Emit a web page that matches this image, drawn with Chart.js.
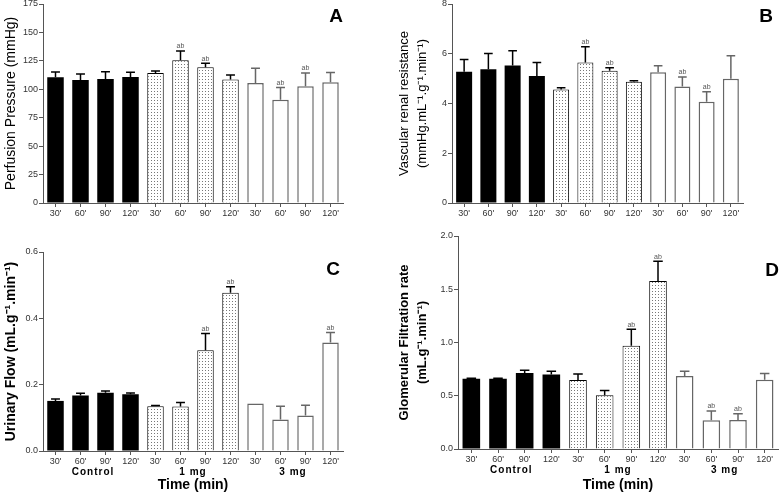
<!DOCTYPE html>
<html>
<head>
<meta charset="utf-8">
<script src="https://cdn.jsdelivr.net/npm/chart.js@4.4.1/dist/chart.umd.min.js"></script>
<style>
  body { margin: 0; background: #fff; }
  #wrap { position: relative; width: 780px; height: 492px; overflow: hidden; }
  canvas { position: absolute; }
  .letter { position: absolute; font: bold 19px "Liberation Sans", Arial, sans-serif; color: #000; transform: translate(-50%, -50%); }
</style>
</head>
<body>
<div id="wrap">
  <canvas id="cA" width="390" height="240" style="left:0;top:0"></canvas>
  <canvas id="cB" width="390" height="240" style="left:390px;top:0"></canvas>
  <canvas id="cC" width="390" height="252" style="left:0;top:240px"></canvas>
  <canvas id="cD" width="390" height="262" style="left:390px;top:230px"></canvas>
  <div class="letter" style="left:336px;top:16px">A</div>
  <div class="letter" style="left:766px;top:16px">B</div>
  <div class="letter" style="left:333px;top:269px">C</div>
  <div class="letter" style="left:772px;top:270px">D</div>
</div>
<script>
document.addEventListener("DOMContentLoaded", function () {

  const timeLabels = ["30'", "60'", "90'", "120'", "30'", "60'", "90'", "120'", "30'", "60'", "90'", "120'"];
  const groupLabels = ['Control', '1 mg', '3 mg'];

  // A - perfusion pressure
  const ppMean = [110.5, 108.2, 109, 110.8, 114.4, 125.5, 119.4, 108.5, 105.6, 90.9, 102.6, 106.2];
  const ppSem  = [4.7, 5.3, 6.5, 4.2, 1.6, 8.2, 3.5, 4.1, 12.9, 10.6, 11.8, 8.5];
  const ppSig  = ['', '', '', '', '', 'ab', 'ab', '', '', 'ab', 'ab', ''];

  // B - vascular renal resistance
  const vrrMean = [5.28, 5.38, 5.53, 5.11, 4.56, 5.65, 5.32, 4.87, 5.26, 4.68, 4.07, 5.0];
  const vrrSem  = [0.49, 0.63, 0.59, 0.54, 0.07, 0.63, 0.12, 0.04, 0.26, 0.39, 0.40, 0.92];
  const vrrSig  = ['', '', '', '', '', 'ab', 'ab', '', '', 'ab', 'ab', ''];

  // C - urinary flow
  const ufMean = [0.151, 0.167, 0.176, 0.171, 0.135, 0.134, 0.304, 0.477, 0.143, 0.095, 0.107, 0.327];
  const ufSem  = [0.006, 0.007, 0.005, 0.004, 0.002, 0.012, 0.050, 0.018, 0, 0.040, 0.031, 0.030];
  const ufSig  = ['', '', '', '', '', '', 'ab', 'ab', '', '', '', 'ab'];

  // D - glomerular filtration rate
  const gfrMean = [0.66, 0.66, 0.713, 0.70, 0.648, 0.504, 0.97, 1.577, 0.685, 0.27, 0.272, 0.65];
  const gfrSem  = [0.005, 0.005, 0.027, 0.03, 0.056, 0.046, 0.154, 0.185, 0.045, 0.087, 0.058, 0.06];
  const gfrSig  = ['', '', '', '', '', '', 'ab', 'ab', '', 'ab', 'ab', ''];

  const FONT = '"Liberation Sans", Arial, sans-serif';
  const AXIS = '#555';

  // dotted fill for the 1 mg bars
  const tile = document.createElement('canvas');
  tile.width = 3; tile.height = 3;
  const tctx = tile.getContext('2d');
  tctx.fillStyle = '#fff';
  tctx.fillRect(0, 0, 3, 3);
  tctx.fillStyle = '#777';
  tctx.fillRect(1, 1, 1, 1);
  const dots = tctx.createPattern(tile, 'repeat');

  const fills = timeLabels.map((_, i) => i < 4 ? '#000' : i < 8 ? dots : '#fff');
  const borders = timeLabels.map((_, i) => i < 4 ? '#000' : i < 8 ? '#000' : '#666');
  const borderW = timeLabels.map((_, i) => i < 4 ? 0 : i < 8 ? 1 : 1.5);

  // error bars, "ab" marks and group names
  const extras = {
    id: 'extras',
    afterDatasetsDraw(chart, args, o) {
      const ctx = chart.ctx;
      const y = chart.scales.y, x = chart.scales.x;
      const bars = chart.getDatasetMeta(0).data;
      ctx.save();
      ctx.font = '7px ' + FONT;
      ctx.textAlign = 'center';
      ctx.textBaseline = 'bottom';
      bars.forEach((bar, i) => {
        const top = y.getPixelForValue(o.mean[i]);
        const tip = y.getPixelForValue(o.mean[i] + o.sem[i]);
        const half = bar.width * 0.27;
        ctx.strokeStyle = i < 8 ? '#000' : '#666';
        ctx.lineWidth = 1.5;
        if (o.sem[i] > 0) {
          ctx.beginPath();
          ctx.moveTo(bar.x, top); ctx.lineTo(bar.x, tip);
          ctx.moveTo(bar.x - half, tip); ctx.lineTo(bar.x + half, tip);
          ctx.stroke();
        }
        if (o.sig[i]) {
          ctx.fillStyle = '#555';
          ctx.fillText(o.sig[i], bar.x, tip - 1);
        }
      });
      if (o.groups) {
        ctx.font = 'bold 10px ' + FONT;
        ctx.letterSpacing = '1px';
        ctx.fillStyle = '#000';
        ctx.textBaseline = 'middle';
        groupLabels.forEach((g, k) => {
          const cx = (x.getPixelForValue(k * 4 + 1) + x.getPixelForValue(k * 4 + 2)) / 2;
          ctx.fillText(g, cx, x.top + 21);
        });
      }
      ctx.restore();
    }
  };

  function makeChart(id, p) {
    new Chart(document.getElementById(id), {
      type: 'bar',
      data: {
        labels: timeLabels,
        datasets: [{
          data: p.mean,
          backgroundColor: fills,
          borderColor: borders,
          borderWidth: borderW,
          borderSkipped: 'start',
          barPercentage: 0.66,
          categoryPercentage: 1
        }]
      },
      options: {
        responsive: false,
        animation: false,
        events: [],
        layout: { padding: p.pad },
        plugins: {
          legend: { display: false },
          tooltip: { enabled: false },
          extras: { mean: p.mean, sem: p.sem, sig: p.sig, groups: p.groups }
        },
        scales: {
          x: {
            offset: true,
            grid: { display: true, drawOnChartArea: false, offset: false, tickLength: 4, color: AXIS },
            border: { display: true, color: AXIS, width: 1 },
            ticks: { font: { family: FONT, size: 9 }, color: '#333', padding: 1, maxRotation: 0, autoSkip: false },
            title: {
              display: !!p.groups,
              text: 'Time (min)',
              font: { family: FONT, size: 14, weight: 'bold', lineHeight: 1 },
              color: '#000',
              padding: 0
            },
            afterFit: s => { s.height = p.xH; s.paddingLeft = 0; s.paddingRight = 0; }
          },
          y: {
            min: 0, max: p.max,
            grid: { display: true, drawOnChartArea: false, tickLength: 4, color: AXIS },
            border: { display: true, color: AXIS, width: 1 },
            ticks: {
              stepSize: p.step,
              font: { family: FONT, size: 9 }, color: '#333', padding: 1,
              callback: v => p.dec ? v.toFixed(p.dec) : v
            },
            title: {
              display: true,
              text: p.title,
              font: { family: FONT, size: p.tSize, weight: p.tWeight, lineHeight: p.tLine },
              color: '#000',
              padding: { top: p.tPad, bottom: 0 }
            },
            afterFit: s => { s.width = p.yW; s.paddingTop = 0; s.paddingBottom = 0; }
          }
        }
      },
      plugins: [extras]
    });
  }

  makeChart('cA', {
    mean: ppMean, sem: ppSem, sig: ppSig, max: 175, step: 25, dec: 0,
    title: 'Perfusion Pressure (mmHg)', tSize: 14, tWeight: 'normal', tLine: 1.2, tPad: 3,
    pad: { left: 0, top: 4, right: 47, bottom: 0 }, yW: 43, xH: 37
  });

  makeChart('cB', {
    mean: vrrMean, sem: vrrSem, sig: vrrSig, max: 8, step: 2, dec: 0,
    title: ['Vascular renal resistance', '(mmHg.mL\u207B\u00B9.g\u207B\u00B9.min\u207B\u00B9)'],
    tSize: 13, tWeight: 'normal', tLine: 1.35, tPad: 6,
    pad: { left: 0, top: 4, right: 37, bottom: 0 }, yW: 62, xH: 37
  });

  makeChart('cC', {
    mean: ufMean, sem: ufSem, sig: ufSig, max: 0.6, step: 0.2, dec: 1, groups: true,
    title: 'Urinary Flow (mL.g\u207B\u00B9.min\u207B\u00B9)', tSize: 14, tWeight: 'bold', tLine: 1.2, tPad: 3,
    pad: { left: 0, top: 12, right: 47, bottom: 0 }, yW: 43, xH: 41
  });

  makeChart('cD', {
    mean: gfrMean, sem: gfrSem, sig: gfrSig, max: 2.0, step: 0.5, dec: 1, groups: true,
    title: ['Glomerular Filtration rate', '(mL.g\u207B\u00B9.min\u207B\u00B9)'],
    tSize: 13, tWeight: 'bold', tLine: 1.35, tPad: 6,
    pad: { left: 0, top: 6, right: 2, bottom: 0 }, yW: 68, xH: 43
  });

});
</script>
</body>
</html>
